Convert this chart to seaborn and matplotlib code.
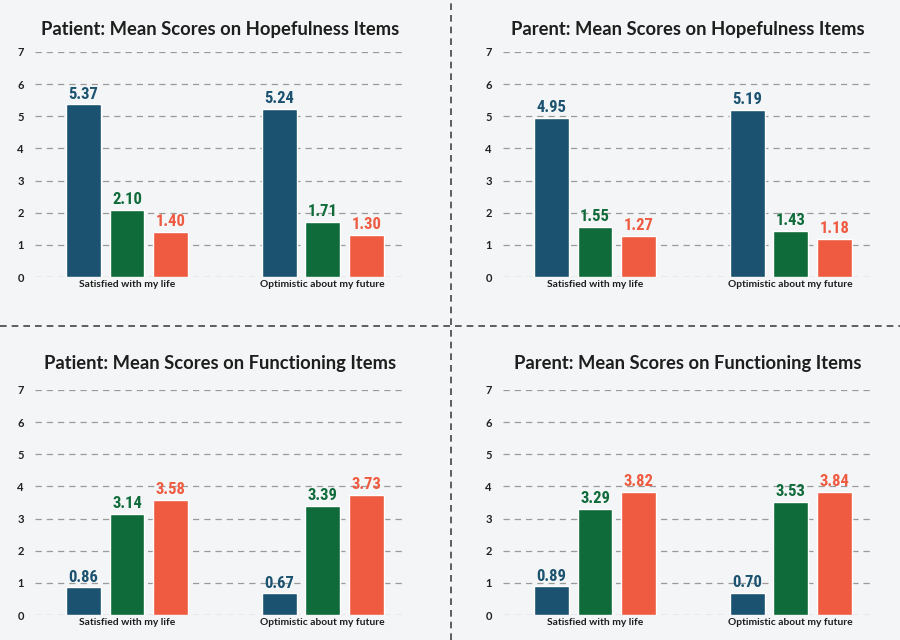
import numpy as np
import pandas as pd
import matplotlib
matplotlib.use("Agg")
import matplotlib.pyplot as plt
import seaborn as sns
from matplotlib.lines import Line2D
from matplotlib import font_manager

# data
items = ["Satisfied with my life", "Optimistic about my future"]
groups = ["A", "B", "C"]  # three response groups (blue, green, orange)

patient_hope = [[5.37, 2.10, 1.40], [5.24, 1.71, 1.30]]
parent_hope = [[4.95, 1.55, 1.27], [5.19, 1.43, 1.18]]
patient_func = [[0.86, 3.14, 3.58], [0.67, 3.39, 3.73]]
parent_func = [[0.89, 3.29, 3.82], [0.70, 3.53, 3.84]]

titles = ["Patient: Mean Scores on Hopefulness Items",
          "Parent: Mean Scores on Hopefulness Items",
          "Patient: Mean Scores on Functioning Items",
          "Parent: Mean Scores on Functioning Items"]
panels = [patient_hope, parent_hope, patient_func, parent_func]

colors = ["#1b5270", "#106b3b", "#ef5b41"]
bg = "#f3f5f6"

# look for a narrow font for the value labels
names = {f.name for f in font_manager.fontManager.ttflist}
narrow = [n for n in ["Roboto Condensed", "Liberation Sans Narrow",
                      "DejaVu Sans Condensed", "Open Sans Condensed"] if n in names]
label_family = narrow + ["DejaVu Sans"]
label_stretch = "normal" if narrow else "condensed"

sns.set_theme(style="white")
plt.rcParams["font.family"] = ["Lato", "DejaVu Sans"]

fig = plt.figure(figsize=(9, 6.4), dpi=100, facecolor=bg)
W, H = 900, 640

# pixel boxes: left, top(7 line), right, bottom(0 line), title pad
boxes = [(35, 52, 405, 277, 12), (503, 52, 873, 277, 12),
         (35, 390, 405, 615, 15), (503, 390, 873, 615, 15)]

for vals, title, (l, t, r, b, tp) in zip(panels, titles, boxes):
    ax = fig.add_axes([l / W, 1 - b / H, (r - l) / W, (b - t) / H])
    ax.set_facecolor(bg)
    df = pd.DataFrame([(it, g, v) for it, row in zip(items, vals)
                       for g, v in zip(groups, row)],
                      columns=["item", "group", "score"])
    sns.barplot(data=df, x="item", y="score", hue="group", order=items,
                hue_order=groups, palette=colors, width=0.667, gap=0.2,
                saturation=1, legend=False, ax=ax, zorder=3)
    for cont, c in zip(ax.containers, colors):
        txts = ax.bar_label(cont, fmt="%.2f", padding=2, color=c, fontsize=12,
                            fontweight="bold", family=label_family, zorder=4)
        for tx in txts:
            tx.set_fontstretch(label_stretch)
    ax.set_ylim(0, 7)
    ax.set_xlim(-0.47, 1.42)
    ax.set_yticks(range(8))
    ax.grid(axis="y", linestyle=(0, (5, 4)), color="#9a9a9a", linewidth=0.9, zorder=0)
    ax.grid(axis="x", visible=False)
    for s in ax.spines.values():
        s.set_visible(False)
    ax.tick_params(axis="y", length=0, pad=8, labelsize=8)
    ax.tick_params(axis="x", length=0, pad=2, labelsize=7.4)
    for lab in ax.get_yticklabels():
        lab.set_fontweight("bold")
        lab.set_color("#222222")
    for lab in ax.get_xticklabels():
        lab.set_color("#1e1e1e")
        lab.set_fontweight("bold")
    ax.set_xlabel("")
    ax.set_ylabel("")
    ax.set_title(title, fontsize=13.2, fontweight="bold", color="#1e1e1e", pad=tp)

# dashed separators between the panels
fig.add_artist(Line2D([451 / W, 451 / W], [0, 1], color="#444444",
                      linestyle=(0, (4, 3)), linewidth=1.2))
fig.add_artist(Line2D([0, 1], [1 - 326 / H, 1 - 326 / H], color="#444444",
                      linestyle=(0, (4, 3)), linewidth=1.2))

fig.savefig("out.png", dpi=100, facecolor=bg)
